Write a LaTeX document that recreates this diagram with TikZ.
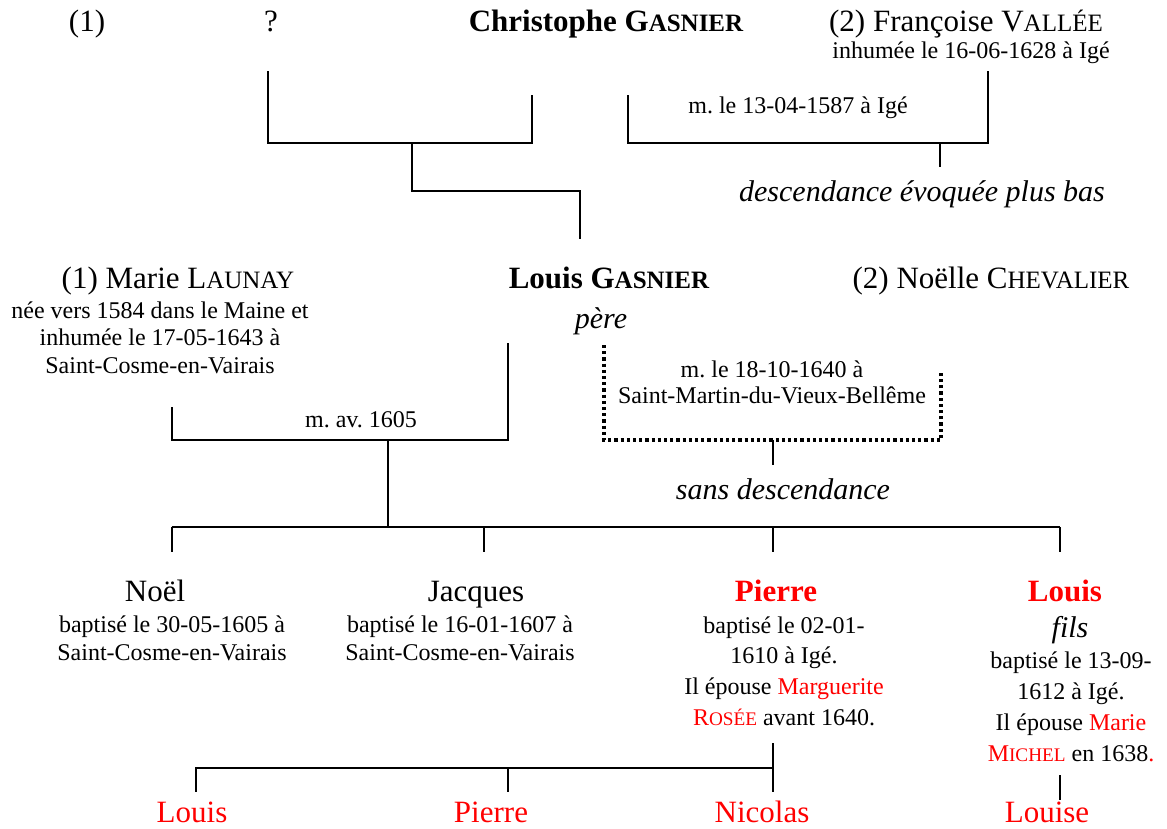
\documentclass[tikz,border=0pt]{standalone}
\usepackage{fontspec}
\setmainfont{Liberation Serif}
\definecolor{rd}{RGB}{255,0,0}
\newcommand{\scB}[1]{{\fontsize{25}{25}\selectfont #1}}
\newcommand{\scS}[1]{{\fontsize{19.2}{19.2}\selectfont #1}}
\newcommand{\mylines}[1]{\begin{tabular}[t]{@{}c@{}}#1\end{tabular}}
\frenchspacing
\tikzset{
  bigtxt/.style={anchor=base, inner sep=0pt, font=\fontsize{31}{36}\selectfont},
  bigbold/.style={anchor=base, inner sep=0pt, font=\fontsize{31}{36}\selectfont\bfseries},
  smalltxt/.style={anchor=base, inner sep=0pt, font=\fontsize{24}{28}\selectfont},
  italtxt/.style={anchor=base, inner sep=0pt, font=\fontsize{30}{34}\selectfont\itshape},
  link/.style={line width=2pt},
  dots/.style={line width=3.2pt, dash pattern=on 3.2pt off 3pt},
}
\begin{document}
\begin{tikzpicture}[x=1pt,y=-1pt]
\useasboundingbox[fill=white] (0,0) rectangle (1167,828);

% ---- top generation
\node[bigtxt] (p1) at (87,31) {(1)};
\node[bigtxt] (unk) at (271,31) {?};
\node[bigbold] (chris) at (606,31) {Christophe G\scB{ASNIER}};
\node[bigtxt] (fv) at (966,31) {(2) Françoise V\scB{ALLÉE}};
\node[smalltxt] (fvd) at (971,58) {inhumée le 16-06-1628 à Igé};
\node[smalltxt] (m1) at (798,113) {m. le 13-04-1587 à Igé};
\node[italtxt] (desc1) at (922,201) {descendance évoquée plus bas};

% ---- second generation
\node[bigtxt] (ml) at (178,288) {(1) Marie L\scB{AUNAY}};
\node[smalltxt, font=\fontsize{24}{27.5}\selectfont] (mld) at (160,318)
  {\mylines{née vers 1584 dans le Maine et\\inhumée le 17-05-1643 à\\Saint-Cosme-en-Vairais}};
\node[bigbold] (lg) at (609,288) {Louis G\scB{ASNIER}};
\node[italtxt] (pere) at (601,328) {père};
\node[bigtxt] (nc) at (991,288) {(2) Noëlle C\scB{HEVALIER}};
\node[smalltxt] (m2) at (361,427) {m. av. 1605};
\node[smalltxt, font=\fontsize{24}{26.5}\selectfont] (m3) at (772,377)
  {\mylines{m. le 18-10-1640 à\\Saint-Martin-du-Vieux-Bellême}};
\node[italtxt] (sd) at (783,499) {sans descendance};

% ---- children
\node[bigtxt] (noel) at (155,601) {Noël};
\node[smalltxt, font=\fontsize{24}{28.5}\selectfont] (noeld) at (172,632)
  {\mylines{baptisé le 30-05-1605 à\\Saint-Cosme-en-Vairais}};
\node[bigtxt] (jac) at (476,601) {Jacques};
\node[smalltxt, font=\fontsize{24}{28.5}\selectfont] (jacd) at (460,632)
  {\mylines{baptisé le 16-01-1607 à\\Saint-Cosme-en-Vairais}};
\node[bigbold, text=rd] (pie) at (776,601) {Pierre};
\node[smalltxt, font=\fontsize{24}{30.7}\selectfont] (pied) at (784,633)
  {\mylines{baptisé le 02-01-\\1610 à Igé.\\Il épouse \textcolor{rd}{Marguerite}\\\textcolor{rd}{R\scS{OSÉE}} avant 1640.}};
\node[bigbold, text=rd] (lou) at (1065,601) {Louis};
\node[italtxt] (fils) at (1070,637) {fils};
\node[smalltxt, font=\fontsize{24}{31}\selectfont] (loud) at (1071,668)
  {\mylines{baptisé le 13-09-\\1612 à Igé.\\Il épouse \textcolor{rd}{Marie}\\\textcolor{rd}{M\scS{ICHEL}} en 1638\textcolor{rd}{.}}};

% ---- grandchildren
\node[bigtxt, text=rd] (gc1) at (192,822) {Louis};
\node[bigtxt, text=rd] (gc2) at (491,822) {Pierre};
\node[bigtxt, text=rd] (gc3) at (762,822) {Nicolas};
\node[bigtxt, text=rd] (gc4) at (1047,822) {Louise};

% ---- connector points
\coordinate (a1) at (268,71);
\coordinate (a2) at (532,95);
\coordinate (abar) at (412,143);
\coordinate (akink) at (412,191);
\coordinate (s1) at (580,239);
\coordinate (b1) at (628,95);
\coordinate (b2) at (988,71);
\coordinate (bbar) at (940,143);
\coordinate (bend) at (940,167);
\coordinate (c1) at (171.5,407);
\coordinate (c2) at (508,343);
\coordinate (cbar) at (388,440);
\coordinate (d1) at (604,345);
\coordinate (d2) at (941,372);
\coordinate (dbar) at (773,440);
\coordinate (dend) at (773,465);
\coordinate (k0) at (388,527);
\coordinate (k1) at (171.5,527);
\coordinate (k2) at (484,527);
\coordinate (k3) at (773,527);
\coordinate (k4) at (1060,527);
\coordinate (k1d) at (171.5,552);
\coordinate (k2d) at (484,552);
\coordinate (k3d) at (773,552);
\coordinate (k4d) at (1060,552);
\coordinate (e0) at (773,743);
\coordinate (ebar) at (773,768);
\coordinate (e3) at (773,792);
\coordinate (e1) at (196,768);
\coordinate (e2) at (508,768);
\coordinate (e1d) at (196,792);
\coordinate (e2d) at (508,792);
\coordinate (f0) at (1060,775);
\coordinate (f1) at (1060,800);

% ---- connectors
\draw[link] (a1) |- (abar) -| (a2);
\draw[link] (abar) -- (akink) -| (s1);
\draw[link] (b1) |- (bbar) -| (b2);
\draw[link] (bbar) -- (bend);
\draw[link] (c1) |- (cbar) -| (c2);
\draw[link] (cbar) -- (k0);
\draw[dots] (d1) |- (dbar) -| (d2);
\draw[link] (dbar) -- (dend);
\draw[link] (k1) -- (k4);
\draw[link] (k1) -- (k1d);
\draw[link] (k2) -- (k2d);
\draw[link] (k3) -- (k3d);
\draw[link] (k4) -- (k4d);
\draw[link] (e0) -- (e3);
\draw[link] (ebar) -- (e1) -- (e1d);
\draw[link] (e2) -- (e2d);
\draw[link] (f0) -- (f1);
\end{tikzpicture}
\end{document}
